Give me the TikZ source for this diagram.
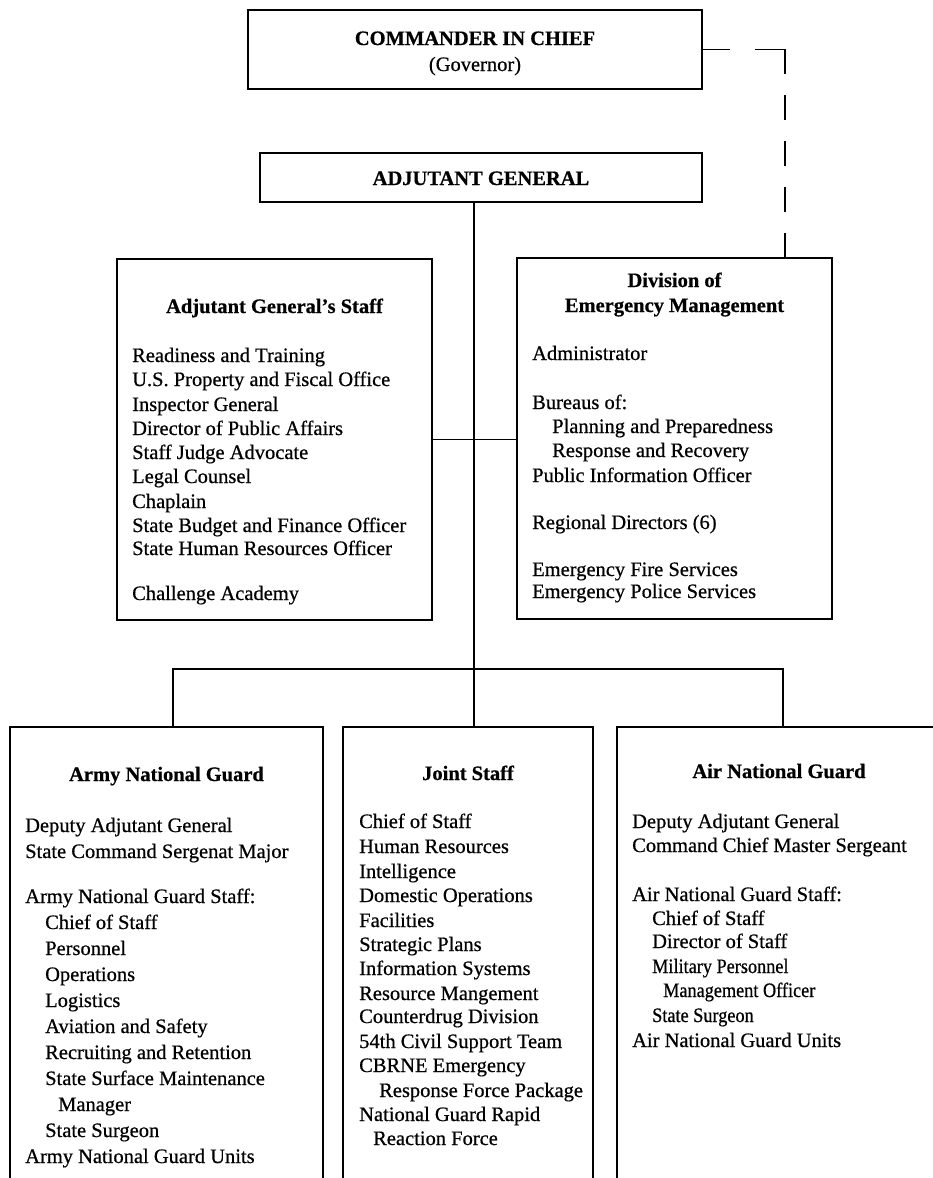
\documentclass[tikz,border=0pt]{standalone}
\usepackage{fontspec}
\setmainfont{Liberation Serif}
\newfontfamily\bodyfont[FakeBold=0.6]{Liberation Serif}
\newfontfamily\headfont[FakeBold=0.6]{Liberation Serif Bold}
\newfontfamily\condfont[FakeStretch=0.89,FakeBold=0.6]{Liberation Serif}
\begin{document}
\begin{tikzpicture}[x=1pt,y=-1pt,
  box/.style={draw, line width=1.6pt, inner sep=0pt, rectangle},
  bodytxt/.style={font=\fontsize{20.5}{24}\selectfont\bodyfont, inner sep=0pt, anchor=base west},
  condtxt/.style={font=\fontsize{20.5}{24}\selectfont\condfont, inner sep=0pt, anchor=base west},
  headtxt/.style={font=\fontsize{20.5}{24}\selectfont\headfont, inner sep=0pt, anchor=base},
  conn/.style={line width=1.6pt},
  dashconn/.style={line width=1.6pt, dash pattern=on 27pt off 25pt on 55pt off 21pt on 25pt off 21pt on 25pt off 21pt on 25pt off 21pt on 25pt off 40pt}]
\useasboundingbox (0,0) rectangle (933,1178);
\clip (0,0) rectangle (933,1178);
\fill[white] (0,0) rectangle (933,1178);

% boxes
\node[box, minimum width=454pt, minimum height=79pt] (cic) at (475,49.5) {};
\node[box, minimum width=442pt, minimum height=49pt] (ag) at (481,177.5) {};
\node[box, minimum width=315pt, minimum height=361pt] (ags) at (274.5,439.5) {};
\node[box, minimum width=315pt, minimum height=361pt] (dem) at (674.5,438.5) {};
\node[box, minimum width=313pt, minimum height=473pt] (arng) at (166.5,963.5) {};
\node[box, minimum width=250pt, minimum height=473pt] (js) at (468,963.5) {};
\node[box, minimum width=328pt, minimum height=473pt] (ang) at (781,963.5) {};

% connectors
\coordinate (busL) at (173,669);
\coordinate (busM) at (474,669);
\coordinate (busR) at (783,669);
\coordinate (dcorner) at (785,49.5);
\draw[conn] (ag.south -| busM) -- (busM |- js.north);
\draw[conn] (busL |- arng.north) -- (busL) -- (busR) -- (busR |- ang.north);
\draw[conn] (ags.east) -- (ags.east -| dem.west);
\draw[dashconn] (cic.east) -- (dcorner) -- (dcorner |- dem.north);

% top texts
\node[headtxt] (cict) at (475,45) {COMMANDER IN CHIEF};
\node[inner sep=0pt, anchor=base, font=\fontsize{20.5}{24}\selectfont\bodyfont] (cicg) at (475,71) {(Governor)};
\node[headtxt] (agt) at (481,185) {ADJUTANT GENERAL};

% Adjutant General's Staff
\node[headtxt] (agsh) at (274.5,313) {Adjutant General’s Staff};
\foreach \yy/\xx/\tt [count=\i] in {
  362/132/Readiness and Training,
  386/132/U.S. Property and Fiscal Office,
  411/132/Inspector General,
  435/132/Director of Public Affairs,
  459/132/Staff Judge Advocate,
  483/132/Legal Counsel,
  508/132/Chaplain,
  532/132/State Budget and Finance Officer,
  555/132/State Human Resources Officer,
  600/132/Challenge Academy}
  \node[bodytxt] (ags-\i) at (\xx,\yy) {\tt};

% Division of Emergency Management
\node[headtxt] (demh1) at (674.5,287) {Division of};
\node[headtxt] (demh2) at (674.5,312) {Emergency Management};
\foreach \yy/\xx/\tt [count=\i] in {
  360/532/Administrator,
  409/532/Bureaus of:,
  433/552/Planning and Preparedness,
  457/552/Response and Recovery,
  482/532/Public Information Officer,
  529/532/Regional Directors (6),
  576/532/Emergency Fire Services,
  598/532/Emergency Police Services}
  \node[bodytxt] (dem-\i) at (\xx,\yy) {\tt};

% Army National Guard
\node[headtxt] (arngh) at (166.5,781) {Army National Guard};
\foreach \yy/\xx/\tt [count=\i] in {
  832/25/Deputy Adjutant General,
  858/25/State Command Sergenat Major,
  903/25/Army National Guard Staff:,
  929/45/Chief of Staff,
  955/45/Personnel,
  981/45/Operations,
  1007/45/Logistics,
  1033/45/Aviation and Safety,
  1059/45/Recruiting and Retention,
  1085/45/State Surface Maintenance,
  1111/58/Manager,
  1137/45/State Surgeon,
  1163/25/Army National Guard Units}
  \node[bodytxt] (arng-\i) at (\xx,\yy) {\tt};

% Joint Staff
\node[headtxt] (jsh) at (468,780) {Joint Staff};
\foreach \yy/\xx/\tt [count=\i] in {
  828/359/Chief of Staff,
  853/359/Human Resources,
  878/359/Intelligence,
  902/359/Domestic Operations,
  927/359/Facilities,
  951/359/Strategic Plans,
  975/359/Information Systems,
  1000/359/Resource Mangement,
  1023/359/Counterdrug Division,
  1048/359/54th Civil Support Team,
  1072/359/CBRNE Emergency,
  1097/379/Response Force Package,
  1121/359/National Guard Rapid,
  1145/373/Reaction Force}
  \node[bodytxt] (js-\i) at (\xx,\yy) {\tt};

% Air National Guard
\node[headtxt] (angh) at (779,778) {Air National Guard};
\foreach \yy/\xx/\tt [count=\i] in {
  828/632/Deputy Adjutant General,
  852/632/Command Chief Master Sergeant,
  901/632/Air National Guard Staff:,
  925/652/Chief of Staff,
  948/652/Director of Staff,
  1047/632/Air National Guard Units}
  \node[bodytxt] (ang-\i) at (\xx,\yy) {\tt};
\node[condtxt] (ang-mp) at (652,973) {Military Personnel};
\node[condtxt] (ang-mo) at (663,997) {Management Officer};
\node[condtxt] (ang-ss) at (652,1022) {State Surgeon};
\end{tikzpicture}
\end{document}
